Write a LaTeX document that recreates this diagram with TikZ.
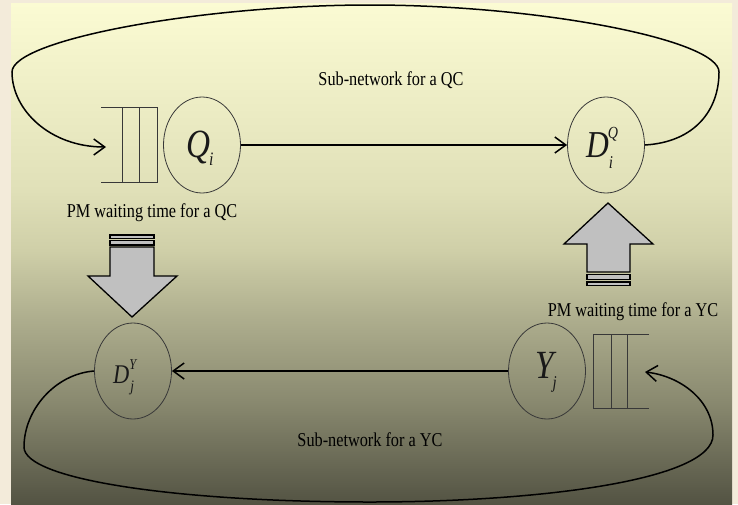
\documentclass[tikz,border=0pt]{standalone}
\usepackage{fontspec}
\setmainfont{Liberation Serif}[FakeStretch=0.83]
\usetikzlibrary{arrows.meta,shapes.geometric}

\definecolor{framecol}{HTML}{F3EBDA}
\definecolor{bgA}{HTML}{FBFBD3}
\definecolor{bgB}{HTML}{E0E0B8}
\definecolor{bgC}{HTML}{CFCFA8}
\definecolor{bgD}{HTML}{ADAD8D}
\definecolor{bgE}{HTML}{8A8A70}
\definecolor{bgF}{HTML}{535343}
\definecolor{blockgrey}{HTML}{C0C0C0}
\definecolor{edgegrey}{HTML}{383838}

% vertical background shading, bottom (25bp) to top (75bp)
\pgfdeclareverticalshading{panelshade}{100bp}{%
  color(0bp)=(bgF); color(25bp)=(bgF); color(35.4bp)=(bgE);
  color(43.4bp)=(bgD); color(50.3bp)=(bgC); color(56.3bp)=(bgB);
  color(75bp)=(bgA); color(100bp)=(bgA)}

\newcommand\bigsym[2]{{\fontsize{#1}{#1}\selectfont\itshape #2}}
\newcommand\smallsym[2]{{\fontsize{#1}{#1}\selectfont\itshape #2}}

\begin{document}
\begin{tikzpicture}[x=1pt,y=-1pt,
  station/.style={ellipse,draw=edgegrey,line width=0.8pt,
    minimum width=77pt,minimum height=96pt,inner sep=0pt},
  conn/.style={draw=black,line width=1.5pt},
  tip/.style={-{Straight Barb[length=11pt,width=16pt]}},
  queuebox/.style={draw=edgegrey,line width=0.9pt},
  block/.style={draw=black,line width=1.3pt,fill=blockgrey,line join=miter},
  lbl/.style={inner sep=0pt,text=black,font=\fontsize{19.6}{22}\selectfont},
  sym/.style={inner sep=0pt,anchor=base west,text=black!90}]

\useasboundingbox (0,0) rectangle (738,504);
\fill[framecol] (0,0) rectangle (738,504);
\shade[shading=panelshade] (11,3) rectangle (732,504);

% stations
\node[station] (qc) at (202,145) {};
\node[station] (dq) at (606,145) {};
\node[station] (yc) at (547,371) {};
\node[station] (dy) at (133,371) {};

% symbols inside the stations
\node[sym] (qlab) at (186,157)
  {\bigsym{40}{Q}\kern-1pt\raisebox{-8pt}{\smallsym{19}{i}}};
\node[sym] (dqlab) at (586,157)
  {\bigsym{38}{D}\kern-1pt\rlap{\raisebox{19pt}{\smallsym{17}{Q}}}\kern1pt\raisebox{-11pt}{\smallsym{18}{i}}};
\node[sym] (ylab) at (535,378)
  {\bigsym{40}{Y}\kern-1pt\raisebox{-10pt}{\smallsym{18}{j}}};
\node[sym] (dylab) at (113,383)
  {\bigsym{27}{D}\kern0pt\rlap{\raisebox{14pt}{\smallsym{15}{Y}}}\kern1pt\raisebox{-8pt}{\smallsym{16}{j}}};

% queues
\draw[queuebox] (101,107) -- (157,107) -- (157,182) -- (101,182)
  (122,107) -- (122,182) (139,107) -- (139,182);
\draw[queuebox] (649,334) -- (593,334) -- (593,408) -- (649,408)
  (611,334) -- (611,408) (627,334) -- (627,408);

% straight connections
\draw[conn,tip] (qc) -- (dq);
\draw[conn,tip] (yc) -- (dy);

% loop of the QC sub-network
\coordinate (qin) at (106,147);
\draw[conn,tip] (dq.east) .. controls (695,142) and (719,110) .. (719,72)
  .. controls (719,40) and (540,5) .. (370,5)
  .. controls (200,5) and (12,40) .. (12,72)
  .. controls (12,110) and (50,147) .. (qin);

% loop of the YC sub-network
\coordinate (yin) at (645,372);
\draw[conn,tip] (dy.west) .. controls (55,374) and (24,410) .. (24,447)
  .. controls (24,480) and (180,502) .. (370,502)
  .. controls (540,502) and (713,480) .. (713,435)
  .. controls (713,400) and (680,376) .. (yin);

% striped block arrow pointing down
\draw[block] (110,235) rectangle (154,238.5);
\draw[block] (110,240.5) rectangle (154,245);
\draw[block] (110,247) -- (154,247) -- (154,276) -- (177,276) -- (132,317)
  -- (88,276) -- (110,276) -- cycle;

% striped block arrow pointing up
\draw[block] (587,282) rectangle (630,285.5);
\draw[block] (587,274.5) rectangle (630,279.5);
\draw[block] (587,272) -- (630,272) -- (630,244) -- (653,244) -- (608,203)
  -- (564,244) -- (587,244) -- cycle;

% texts
\node[lbl] (qnet) at (391,80) {Sub-network for a QC};
\node[lbl] (ynet) at (370,440) {Sub-network for a YC};
\node[lbl] (qwait) at (152,213) {PM waiting time for a QC};
\node[lbl] (ywait) at (633,312) {PM waiting time for a YC};
\end{tikzpicture}
\end{document}
